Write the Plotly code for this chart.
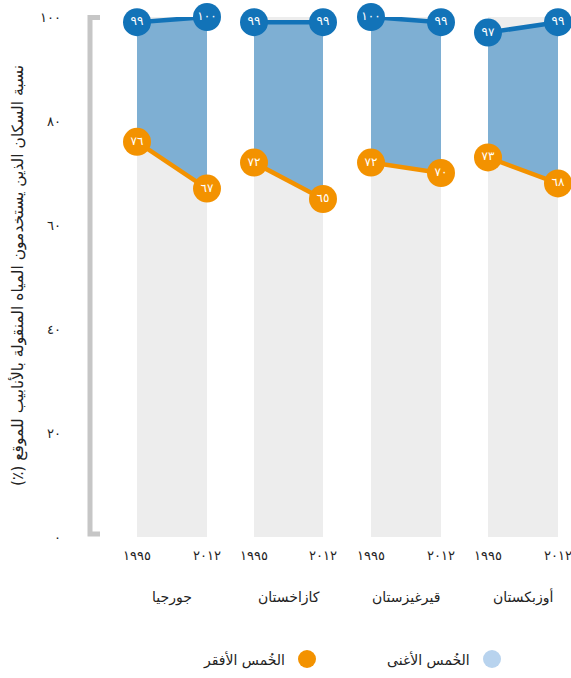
import plotly.graph_objects as go

countries = ["جورجيا", "كازاخستان", "قيرغيزستان", "أوزبكستان"]
years = [1995, 2012]
year_labels = ["١٩٩٥", "٢٠١٢"]
richest = [[99, 100], [99, 99], [100, 99], [97, 99]]
poorest = [[76, 67], [72, 65], [72, 70], [73, 68]]
y_ticks = [0, 20, 40, 60, 80, 100]
y_title = "نسبة السكان الذين يستخدمون المياه المنقولة بالأنابيب للموقع (٪)"
legend_rich = "الخُمس الأغنى"
legend_poor = "الخُمس الأفقر"

BLUE = "#1273b8"
FILL = "rgba(110,166,207,0.88)"
ORANGE = "#f39200"
LIGHT_BLUE = "#b8d3ee"
GREY_BG = "#ededed"
TEXT = "#222222"
FONT = "DejaVu Sans"
RLM = "\u200f"

DIG = str.maketrans("0123456789", "٠١٢٣٤٥٦٧٨٩")


def ar(v):
    return str(v).translate(DIG)


W, H = 571, 678
ML, MR, MT, MB = 137, 13, 17, 141
PW = W - ML - MR
PH = H - MT - MB


def px_x(x):
    return (x - ML) / PW


def px_y(y):
    return (H - MB - y) / PH


domains = [(137, 207), (254, 323), (371, 441), (488, 558)]

fig = go.Figure()
layout = dict(
    template="none",
    width=W, height=H,
    margin=dict(l=ML, r=MR, t=MT, b=MB, autoexpand=False),
    paper_bgcolor="white",
    plot_bgcolor=GREY_BG,
    showlegend=False,
    font=dict(family=FONT, color=TEXT),
)

annotations = []
for i, c in enumerate(countries):
    n = "" if i == 0 else str(i + 1)
    xa = "x" + n
    ya = "y" + n
    fig.add_trace(go.Scatter(
        x=years, y=poorest[i], xaxis=xa, yaxis=ya,
        mode="lines+markers+text",
        line=dict(color=ORANGE, width=4.5),
        marker=dict(size=28, color=ORANGE, line=dict(width=0)),
        text=[ar(v) for v in poorest[i]],
        textposition="middle center",
        textfont=dict(color="white", size=12, family=FONT),
        cliponaxis=False, hoverinfo="skip",
    ))
    fig.add_trace(go.Scatter(
        x=years, y=richest[i], xaxis=xa, yaxis=ya,
        mode="lines+markers+text",
        line=dict(color=BLUE, width=4.5),
        marker=dict(size=28, color=BLUE, line=dict(width=0)),
        fill="tonexty", fillcolor=FILL,
        text=[ar(v) for v in richest[i]],
        textposition="middle center",
        textfont=dict(color="white", size=12, family=FONT),
        cliponaxis=False, hoverinfo="skip",
    ))
    d0, d1 = domains[i]
    layout["xaxis" + n] = dict(
        domain=[px_x(d0), px_x(d1)], anchor=ya, range=[1995, 2012],
        tickvals=years, ticktext=year_labels, ticks="",
        showgrid=False, zeroline=False, showline=False, automargin=False,
        tickfont=dict(size=13, color=TEXT), ticklabelstandoff=9,
        ticklabeloverflow="allow",
    )
    yax = dict(
        domain=[0, 1], anchor=xa, range=[0, 100], automargin=False,
        showgrid=False, zeroline=False, showline=False, ticks="",
    )
    if i == 0:
        yax.update(tickvals=y_ticks, ticktext=[ar(v) for v in y_ticks],
                   tickfont=dict(size=13, color=TEXT), ticklabelstandoff=75,
                   ticklabeloverflow="allow")
    else:
        yax.update(matches="y", showticklabels=False)
    layout["yaxis" + n] = yax
    annotations.append(dict(
        text=c, xref=xa + " domain", x=0.5, yref="paper", y=px_y(597),
        xanchor="center", yanchor="middle", showarrow=False,
        font=dict(size=14, color=TEXT),
    ))

annotations.append(dict(
    text=y_title + RLM, textangle=-90, xref="paper", x=px_x(18), yref="paper",
    y=px_y(276), xanchor="center", yanchor="middle", showarrow=False,
    font=dict(size=15.5, color=TEXT),
))
annotations.append(dict(
    text=legend_rich, xref="paper", x=px_x(472), yref="paper", y=px_y(660),
    xanchor="right", yanchor="middle", showarrow=False,
    font=dict(size=14, color=TEXT),
))
annotations.append(dict(
    text=legend_poor, xref="paper", x=px_x(287), yref="paper", y=px_y(660),
    xanchor="right", yanchor="middle", showarrow=False,
    font=dict(size=14, color=TEXT),
))

bx, cx = px_x(90), px_x(100)
yt, yb = px_y(17.5), px_y(534)
shapes = [
    dict(type="path", xref="paper", yref="paper",
         path=f"M {cx},{yt} L {bx},{yt} L {bx},{yb} L {cx},{yb}",
         line=dict(color="#c6c6c6", width=5)),
    dict(type="circle", xref="paper", yref="paper", xsizemode="pixel",
         ysizemode="pixel", xanchor=px_x(492), yanchor=px_y(659),
         x0=-9, x1=9, y0=-9, y1=9, fillcolor=LIGHT_BLUE, line=dict(width=0)),
    dict(type="circle", xref="paper", yref="paper", xsizemode="pixel",
         ysizemode="pixel", xanchor=px_x(307), yanchor=px_y(659),
         x0=-9, x1=9, y0=-9, y1=9, fillcolor=ORANGE, line=dict(width=0)),
]

layout["annotations"] = annotations
layout["shapes"] = shapes
fig.update_layout(**layout)
fig.write_html(
    "out.html",
    config={"displayModeBar": False, "staticPlot": True},
    post_script="document.body.style.margin='0';document.body.style.overflow='hidden';",
)
